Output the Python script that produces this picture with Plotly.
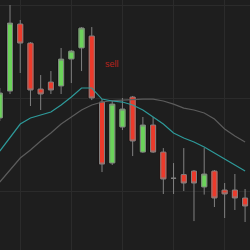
import plotly.graph_objects as go

idx = list(range(25))
opens = [117.85, 120.75, 127.96, 125.91, 120.97, 121.72, 121.29, 124.19, 125.38, 126.67,
         119.57, 113.01, 116.88, 120.11, 114.19, 117.10, 114.19, 111.37, 111.77, 112.15,
         110.43, 112.15, 110.11, 110.11, 109.25]
closes = [120.54, 128.06, 125.91, 120.86, 120.43, 120.86, 124.19, 125.05, 127.53, 120.00,
          112.90, 119.35, 118.82, 115.38, 117.10, 114.19, 111.29, 111.37, 110.86, 110.86,
          111.83, 109.25, 109.68, 109.25, 108.39]
highs = [121.08, 130.00, 128.39, 126.02, 122.47, 122.90, 125.38, 125.16, 127.63, 127.63,
         119.89, 119.68, 120.00, 120.22, 117.96, 117.96, 114.62, 113.01, 114.62, 112.26,
         114.62, 112.26, 110.86, 111.83, 110.22]
lows = [117.53, 120.43, 122.69, 119.14, 118.71, 120.43, 120.43, 121.61, 122.90, 119.78,
        112.04, 112.80, 116.56, 113.76, 114.09, 114.09, 109.68, 109.68, 110.00, 106.77,
        109.62, 108.28, 107.10, 107.96, 106.67]
ma_fast = [114.30, 115.81, 117.20, 117.85, 118.17, 118.49, 119.25, 120.11, 121.08, 121.08,
           119.89, 119.68, 119.57, 119.25, 118.71, 117.96, 117.20, 116.24, 115.70, 115.27,
           114.73, 114.09, 113.44, 112.80, 112.15]
ma_slow = [110.97, 112.26, 113.55, 114.41, 115.38, 116.24, 117.20, 117.96, 118.71, 119.25,
           119.57, 119.73, 119.78, 119.89, 119.89, 119.89, 119.68, 119.35, 118.92, 118.71,
           118.39, 117.74, 116.67, 115.91, 115.27]
signal_idx = 11
signal_price = 123.66
signal_text = "sell"

UP = "#6bd35a"
DOWN = "#ec3a2b"
WICK = "#808080"
BG = "#1e1e1e"

fig = go.Figure()
fig.add_trace(go.Scatter(x=idx, y=ma_slow, mode="lines",
                         line=dict(color="#5c5c5c", width=1.2), hoverinfo="skip"))
fig.add_trace(go.Scatter(x=idx, y=ma_fast, mode="lines",
                         line=dict(color="#2e9a9a", width=1.2), hoverinfo="skip"))
fig.add_trace(go.Candlestick(
    x=idx, open=opens, high=highs, low=lows, close=closes,
    increasing=dict(line=dict(color=WICK, width=1), fillcolor=UP),
    decreasing=dict(line=dict(color=WICK, width=1), fillcolor=DOWN),
    whiskerwidth=0, hoverinfo="skip"))

base = []
height = []
colors = []
for o, c in zip(opens, closes):
    if o == c:
        base.append(None); height.append(None); colors.append(DOWN)
    else:
        base.append(min(o, c)); height.append(abs(c - o))
        colors.append(UP if c > o else DOWN)
fig.add_trace(go.Bar(x=idx, y=height, base=base, width=0.7,
                     marker=dict(color=colors, line=dict(color="#141414", width=1)),
                     hoverinfo="skip"))

fig.add_annotation(x=signal_idx, y=signal_price, text=signal_text, showarrow=False,
                   font=dict(color="#b8231d", size=9, family="Liberation Sans"))

fig.update_layout(
    width=250, height=250, margin=dict(l=0, r=0, t=0, b=0),
    paper_bgcolor=BG, plot_bgcolor=BG, showlegend=False, barmode="overlay",
    xaxis=dict(range=[0.02, 24.48], showticklabels=False, showgrid=True,
               gridcolor="#2b2b2b", gridwidth=1, tick0=2, dtick=5, zeroline=False,
               rangeslider=dict(visible=False), fixedrange=True),
    yaxis=dict(range=[103.66, 130.54], showticklabels=False, showgrid=True,
               gridcolor="#2b2b2b", gridwidth=1, tick0=0, dtick=10, zeroline=False,
               fixedrange=True),
)
fig.write_html("out.html", config={"displayModeBar": False})
